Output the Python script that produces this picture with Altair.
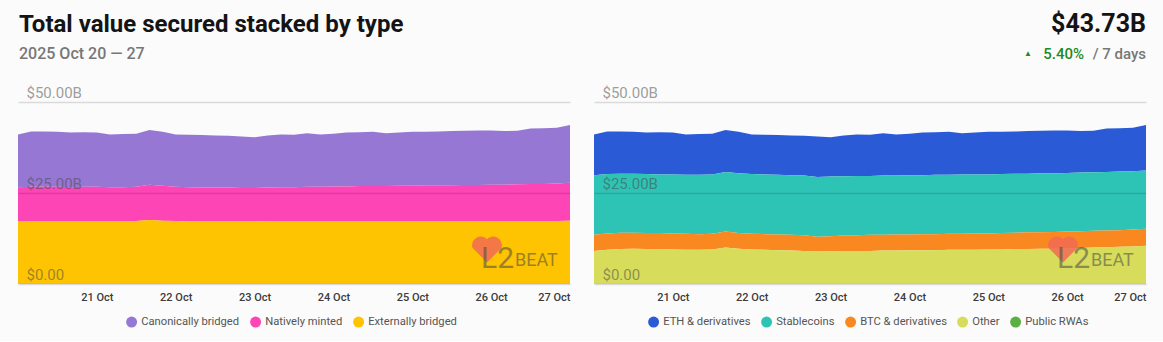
import altair as alt
import pandas as pd

# ---- data (values in $B, 4-hour steps from 2025-10-20 00:00 to 2025-10-27 00:00) ----
times = pd.date_range("2025-10-20 00:00", "2025-10-27 00:00", freq="4h").strftime("%Y-%m-%dT%H:%M:%S").tolist()

canonically_bridged = [14.5, 15.2, 15.2, 15.1, 15.0, 15.0, 14.9, 14.5, 14.6, 14.6,
                       15.0, 14.8, 14.4, 14.4, 14.4, 14.3, 14.2, 14.1, 13.9, 14.3,
                       14.5, 14.4, 14.7, 14.4, 14.5, 14.8, 14.8, 14.9, 14.5, 14.6,
                       14.8, 14.7, 14.8, 14.9, 14.9, 15.0, 14.9, 14.7, 14.7, 15.2,
                       15.3, 15.3, 15.9]
natively_minted = [9.3, 9.4, 9.4, 9.4, 9.3, 9.4, 9.4, 9.3, 9.3, 9.4,
                   9.7, 9.6, 9.4, 9.4, 9.3, 9.3, 9.3, 9.2, 9.2, 9.2,
                   9.3, 9.3, 9.4, 9.4, 9.5, 9.5, 9.6, 9.6, 9.6, 9.7,
                   9.7, 9.8, 9.8, 9.8, 9.9, 9.9, 10.0, 10.0, 10.1, 10.2,
                   10.2, 10.3, 10.4]
externally_bridged = [17.3, 17.3, 17.3, 17.3, 17.3, 17.3, 17.3, 17.3, 17.3, 17.3,
                      17.6, 17.4, 17.3, 17.2, 17.2, 17.2, 17.2, 17.2, 17.2, 17.3,
                      17.3, 17.3, 17.3, 17.3, 17.3, 17.3, 17.3, 17.3, 17.3, 17.3,
                      17.3, 17.3, 17.3, 17.3, 17.3, 17.3, 17.3, 17.3, 17.3, 17.3,
                      17.3, 17.3, 17.4]

eth = [11.2, 11.7, 11.6, 11.5, 11.4, 11.6, 11.5, 11.1, 11.2, 11.2,
       11.5, 11.4, 10.9, 10.9, 10.9, 10.9, 10.9, 11.1, 10.8, 11.2,
       11.4, 11.3, 11.6, 11.3, 11.4, 11.7, 11.7, 11.8, 11.3, 11.5,
       11.7, 11.6, 11.6, 11.7, 11.7, 11.8, 11.7, 11.4, 11.4, 11.9,
       11.9, 11.9, 12.5]
stablecoins = [16.4, 16.3, 16.2, 16.2, 16.2, 16.1, 16.2, 16.2, 16.3, 16.3,
               16.4, 16.4, 16.4, 16.4, 16.4, 16.4, 16.4, 16.4, 16.4, 16.3,
               16.3, 16.2, 16.3, 16.2, 16.3, 16.2, 16.3, 16.2, 16.3, 16.2,
               16.2, 16.2, 16.2, 16.1, 16.2, 16.1, 16.1, 16.1, 16.1, 16.1,
               16.1, 16.0, 16.0]
btc = [4.4, 4.5, 4.5, 4.4, 4.4, 4.4, 4.4, 4.4, 4.3, 4.3,
       4.4, 4.3, 4.3, 4.3, 4.3, 4.3, 4.3, 4.1, 4.1, 4.2,
       4.3, 4.4, 4.3, 4.4, 4.3, 4.4, 4.4, 4.4, 4.4, 4.5,
       4.4, 4.5, 4.5, 4.6, 4.5, 4.6, 4.6, 4.6, 4.6, 4.6,
       4.6, 4.7, 4.7]
other = [9.1, 9.4, 9.6, 9.7, 9.6, 9.6, 9.5, 9.4, 9.4, 9.5,
         10.0, 9.7, 9.5, 9.4, 9.3, 9.2, 9.1, 8.9, 9.0, 9.1,
         9.1, 9.1, 9.2, 9.2, 9.3, 9.3, 9.3, 9.4, 9.4, 9.4,
         9.5, 9.5, 9.6, 9.6, 9.7, 9.7, 9.8, 9.9, 10.0, 10.1,
         10.2, 10.3, 10.5]

left_names = ["Canonically bridged", "Natively minted", "Externally bridged"]
left_colors = ["#9677d3", "#fd45b6", "#fec401"]
right_names = ["ETH & derivatives", "Stablecoins", "BTC & derivatives", "Other", "Public RWAs"]
right_colors = ["#2a5ad6", "#2ec4b5", "#f8881f", "#d7dc5a", "#5bb044"]

y_ticks = [0, 25, 50]
x_tick_days = [21, 22, 23, 24, 25, 26, 27]

title_text = "Total value secured stacked by type"
subtitle_text = "2025 Oct 20 \u2014 27"
total_text = "$43.73B"
change_text = "5.40%"
period_text = "/ 7 days"

# ---- long tables ----
def long_table(names, series):
    rows = []
    n = len(names)
    for i, (name, vals) in enumerate(zip(names, series)):
        for t, v in zip(times, vals):
            rows.append({"time": t, "type": name, "value": v, "stack": n - 1 - i})
    return pd.DataFrame(rows)

left_df = long_table(left_names, [canonically_bridged, natively_minted, externally_bridged])
right_df = long_table(right_names[:4], [eth, stablecoins, btc, other])

W, H = 552, 182
FONT = "Roboto"
HEART = "M0,0.85 L-0.92,-0.08 A0.55,0.55 0 0,1 0,-0.62 A0.55,0.55 0 0,1 0.92,-0.08 Z"

x_enc = alt.X(
    "time:T",
    title=None,
    scale=alt.Scale(domain=[alt.DateTime(year=2025, month=10, date=20),
                            alt.DateTime(year=2025, month=10, date=27)], nice=False),
    axis=alt.Axis(
        values=[alt.DateTime(year=2025, month=10, date=d) for d in x_tick_days],
        format="%-d %b", grid=False, domain=False, ticks=False,
        labelFont=FONT, labelFontSize=11, labelColor="#3c3c3c", labelFontWeight=500,
        labelPadding=7, labelFlush=True,
    ),
)

y_enc = alt.Y(
    "value:Q",
    stack="zero",
    title=None,
    scale=alt.Scale(domain=[0, 50], nice=False),
    axis=alt.Axis(
        values=y_ticks,
        labelExpr="datum.value == 0 ? '$0.00' : '$' + format(datum.value, '.2f') + 'B'",
        orient="left", labelAlign="left", labelBaseline="bottom", labelPadding=-8,
        labelOffset=-2, ticks=False, domain=False,
        grid=True, gridColor="#000000", gridOpacity=0.13, gridWidth=1.5,
        labelFont=FONT, labelFontSize=15, labelColor="#4a4a4a", labelOpacity=0.55,
        zindex=1,
    ),
)


def panel(df, names, colors, legend_x):
    area = alt.Chart(df).mark_area(opacity=1, interpolate="linear").encode(
        x=x_enc,
        y=y_enc,
        color=alt.Color(
            "type:N",
            scale=alt.Scale(domain=names, range=colors),
            legend=alt.Legend(
                title=None, orient="none", legendX=legend_x, legendY=214,
                direction="horizontal",
                symbolType="circle", symbolSize=120, symbolStrokeWidth=0,
                labelFont=FONT, labelFontSize=11.2, labelColor="#555555",
                columnPadding=10, labelOffset=4,
            ),
        ),
        order=alt.Order("stack:Q", sort="ascending"),
    )
    heart = alt.Chart(pd.DataFrame({"k": [1]})).mark_point(
        shape=HEART, filled=True, size=1000, color="#f26a55", opacity=0.85, strokeWidth=0
    ).encode(x=alt.value(469), y=alt.value(147))
    l2 = alt.Chart(pd.DataFrame({"t": ["L2"]})).mark_text(
        font=FONT, fontSize=30, color="#4a4a4a", opacity=0.55, align="left", baseline="alphabetic"
    ).encode(text="t:N", x=alt.value(463), y=alt.value(166))
    beat = alt.Chart(pd.DataFrame({"t": ["BEAT"]})).mark_text(
        font=FONT, fontSize=18, color="#4a4a4a", opacity=0.55, align="left", baseline="alphabetic"
    ).encode(text="t:N", x=alt.value(497), y=alt.value(164))
    return area + heart + l2 + beat


def text_layer(s, x, y, size, color, weight="normal", align="left"):
    return alt.Chart(pd.DataFrame({"t": [s]})).mark_text(
        font=FONT, fontSize=size, color=color, fontWeight=weight, align=align, baseline="alphabetic"
    ).encode(text="t:N", x=alt.value(x), y=alt.value(y))


left = alt.layer(
    panel(left_df, left_names, left_colors, 108),
    text_layer(title_text, 1, -70, 24, "#141414", "bold"),
    text_layer(subtitle_text, 1, -43, 16, "#777777", 500),
).properties(width=W, height=H)

right = alt.layer(
    panel(right_df, right_names, right_colors, 54),
    text_layer(total_text, W, -70, 25, "#141414", "bold", "right"),
    text_layer(period_text, W, -43, 15, "#777777", 500, "right"),
    text_layer(change_text, 490, -43, 15, "#1d8a26", 500, "right"),
    text_layer("\u25b2", 434, -46, 8, "#1d8a26", "normal", "center"),
).properties(width=W, height=H)

chart = alt.hconcat(left, right, spacing=24).resolve_scale(color="independent").properties(
    padding={"left": 18, "right": 17, "top": 12, "bottom": 13},
    background="#fbfbfb",
).configure_view(stroke=None)

chart.save("out.html", embed_options={"renderer": "svg", "actions": False})
